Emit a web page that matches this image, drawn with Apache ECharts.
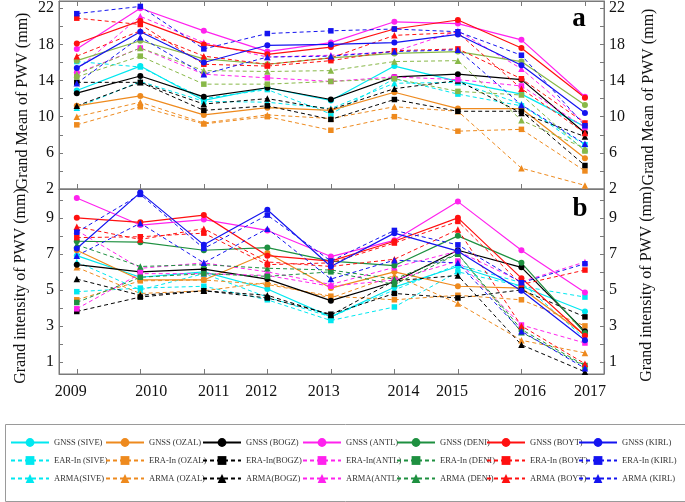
<!DOCTYPE html>
<html><head><meta charset="utf-8">
<script src="https://cdn.jsdelivr.net/npm/echarts@6/dist/echarts.min.js"></script>
<style>html,body{margin:0;padding:0;background:#fff}#c{width:685px;height:502px}</style>
</head><body><div id="c"></div>
<script>
// ---------- data ----------
const years = [2009, 2010, 2011, 2012, 2013, 2014, 2015, 2016, 2017];
const meanTicks = [2, 6, 10, 14, 18, 22];
const intensityTicks = [1, 3, 5, 7, 9];
const meanAxisName = 'Grand Mean of PWV (mm)';
const intensityAxisName = 'Grand intensity of PWV (mm)';

// panel a: Grand Mean of PWV (mm)
const mGnssSive = [12.9, 15.6, 11.8, 13.2, 11.8, 15.6, 13.9, 12.5, 8.9];
const mEraSive  = [16.1, 15.5, 12.0, 13.0, 10.3, 14.2, 12.5, 11.2, 6.9];
const mArmaSive = [11.0, 13.9, 11.7, 11.6, 10.9, 13.7, 13.8, 11.4, 6.4];
const mGnssOzal = [11.2, 12.3, 10.2, 11.0, 10.7, 12.7, 10.9, 10.9, 5.4];
const mEraOzal  = [9.1, 11.1, 9.2, 10.0, 8.5, 10.0, 8.4, 8.6, 4.0];
const mArmaOzal = [10.0, 11.6, 9.3, 10.2, 9.8, 11.1, 10.6, 4.3, 2.4];
const mGnssBogz = [12.6, 14.5, 12.2, 13.2, 11.9, 14.4, 14.7, 14.1, 8.2];
const mEraBogz  = [13.8, 13.8, 10.7, 11.2, 9.7, 11.9, 10.6, 10.6, 4.6];
const mArmaBogz = [11.2, 13.8, 11.4, 12.0, 10.8, 13.1, 14.0, 10.4, 7.8];
const mGnssAntl = [17.5, 22.0, 19.5, 17.2, 18.2, 20.5, 20.3, 18.5, 12.2];
const mEraAntl  = [14.8, 17.6, 14.7, 14.3, 13.9, 14.4, 14.1, 13.4, 8.8];
const mArmaAntl = [15.2, 21.1, 18.2, 16.6, 16.8, 17.2, 19.5, 15.3, 9.3];
const mGnssDeni = [16.2, 18.4, 16.4, 15.8, 16.5, 17.0, 17.2, 16.1, 11.3];
const mEraDeni  = [14.4, 16.7, 13.6, 13.6, 13.9, 14.2, 12.8, 12.4, 6.2];
const mArmaDeni = [14.7, 17.6, 15.1, 15.0, 15.1, 16.1, 16.2, 9.6, 6.5];
const mGnssBoyt = [18.1, 20.6, 18.0, 16.9, 17.7, 19.7, 20.7, 17.6, 12.1];
const mEraBoyt  = [20.9, 20.2, 15.8, 15.6, 16.2, 17.3, 17.5, 14.2, 9.3];
const mArmaBoyt = [16.7, 19.5, 16.7, 15.8, 16.5, 19.0, 19.3, 13.1, 8.2];
const mGnssKirl = [15.4, 19.4, 16.0, 17.9, 18.0, 18.2, 19.1, 15.7, 10.4];
const mEraKirl  = [21.4, 22.2, 17.5, 19.2, 19.5, 19.7, 19.4, 16.8, 9.0];
const mArmaKirl = [13.7, 18.8, 14.7, 16.6, 16.7, 17.2, 17.4, 11.3, 7.0];

// panel b: Grand intensity of PWV (mm)
const iGnssSive = [6.9, 5.7, 6.0, 5.05, 3.5, 5.15, 6.3, 5.2, 3.8];
const iEraSive  = [4.9, 5.1, 5.2, 4.45, 3.3, 4.05, 6.0, 5.2, 4.6];
const iArmaSive = [6.55, 5.0, 5.9, 4.6, 3.5, 5.0, 6.4, 5.4, 2.3];
const iGnssOzal = [7.2, 5.55, 5.55, 7.05, 5.1, 6.0, 5.2, 5.1, 2.5];
const iEraOzal  = [4.45, 5.5, 5.55, 5.3, 4.65, 4.45, 4.7, 4.45, 3.0];
const iArmaOzal = [6.25, 4.8, 4.95, 5.4, 4.55, 5.8, 4.25, 2.2, 1.5];
const iGnssBogz = [6.4, 6.0, 6.15, 5.6, 4.4, 5.45, 7.2, 6.25, 2.7];
const iEraBogz  = [3.8, 4.6, 4.95, 4.55, 3.65, 4.8, 4.55, 5.0, 3.5];
const iArmaBogz = [5.6, 4.7, 4.95, 4.7, 3.6, 5.5, 5.8, 1.95, 0.45];
const iGnssAntl = [10.1, 8.6, 8.9, 8.3, 6.85, 7.75, 9.9, 7.2, 4.85];
const iEraAntl  = [3.95, 5.9, 5.9, 5.8, 5.2, 5.55, 6.6, 3.05, 2.05];
const iArmaAntl = [8.3, 6.2, 6.5, 6.0, 5.3, 6.25, 7.15, 5.45, 6.55];
const iGnssDeni = [7.7, 7.65, 7.2, 7.35, 6.6, 6.35, 8.0, 6.5, 2.6];
const iEraDeni  = [4.3, 5.7, 5.9, 5.75, 6.0, 5.3, 7.0, 2.8, 0.8];
const iArmaDeni = [7.5, 6.3, 6.4, 6.2, 6.1, 5.6, 7.0, 2.65, 0.75];
const iGnssBoyt = [9.0, 8.75, 9.15, 6.9, 6.6, 7.7, 9.0, 5.65, 2.45];
const iEraBoyt  = [7.9, 7.95, 8.15, 6.4, 6.5, 7.6, 8.8, 5.3, 6.1];
const iArmaBoyt = [8.5, 7.8, 8.4, 6.55, 6.3, 6.7, 8.35, 3.0, 0.9];
const iGnssKirl = [7.3, 10.4, 7.5, 9.45, 6.3, 8.15, 7.15, 4.95, 2.2];
const iEraKirl  = [8.2, 10.3, 7.3, 9.15, 6.6, 8.3, 7.5, 5.4, 6.45];
const iArmaKirl = [6.9, 8.7, 6.5, 8.4, 5.6, 6.65, 6.5, 2.7, 0.65];

// legend names (as printed)
const namesSive = ['GNSS (SIVE)', 'EAR-In (SIVE)', 'ARMA(SIVE)'];
const namesOzal = ['GNSS (OZAL)', 'ERA-In (OZAL)', 'ARMA (OZAL)'];
const namesBogz = ['GNSS (BOGZ)', 'ERA-In(BOGZ)', 'ARMA(BOGZ)'];
const namesAntl = ['GNSS (ANTL)', 'ERA-In(ANTL)', 'ARMA(ANTL)'];
const namesDeni = ['GNSS (DENI)', 'ERA-In (DENI)', 'ARMA (DENI)'];
const namesBoyt = ['GNSS (BOYT)', 'ERA-In (BOYT)', 'ARMA (BOYT)'];
const namesKirl = ['GNSS (KIRL)', 'ERA-In (KIRL)', 'ARMA (KIRL)'];

// ---------- styling ----------
const FONT = '"Liberation Serif", "Times New Roman", serif';
const stationDefs = [
  {names: namesSive, colA: '#00E8F0', colB: '#00E8F0', a: [mGnssSive, mEraSive, mArmaSive], b: [iGnssSive, iEraSive, iArmaSive]},
  {names: namesOzal, colA: '#EE8A1E', colB: '#EE8A1E', a: [mGnssOzal, mEraOzal, mArmaOzal], b: [iGnssOzal, iEraOzal, iArmaOzal]},
  {names: namesBogz, colA: '#000000', colB: '#000000', a: [mGnssBogz, mEraBogz, mArmaBogz], b: [iGnssBogz, iEraBogz, iArmaBogz]},
  {names: namesAntl, colA: '#FF22EE', colB: '#FF22EE', a: [mGnssAntl, mEraAntl, mArmaAntl], b: [iGnssAntl, iEraAntl, iArmaAntl]},
  {names: namesDeni, colA: '#88B848', colB: '#1E9040', a: [mGnssDeni, mEraDeni, mArmaDeni], b: [iGnssDeni, iEraDeni, iArmaDeni]},
  {names: namesBoyt, colA: '#FF1010', colB: '#FF1010', a: [mGnssBoyt, mEraBoyt, mArmaBoyt], b: [iGnssBoyt, iEraBoyt, iArmaBoyt]},
  {names: namesKirl, colA: '#1414F0', colB: '#1414F0', a: [mGnssKirl, mEraKirl, mArmaKirl], b: [iGnssKirl, iEraKirl, iArmaKirl]}
];
const typeStyle = [
  {symbol: 'circle', size: 6, line: 'solid', width: 1.2},
  {symbol: 'rect', size: 5.5, line: [4, 3], width: 1},
  {symbol: 'triangle', size: 6.5, line: [4, 3], width: 1}
];

const series = [];
['b', 'a'].forEach(panel => {
  stationDefs.forEach(st => {
    st[panel].forEach((vals, t) => {
      const ts = typeStyle[t];
      const col = panel === 'a' ? st.colA : st.colB;
      series.push({
        type: 'line',
        name: st.names[t],
        xAxisIndex: panel === 'a' ? 0 : 2,
        yAxisIndex: panel === 'a' ? 0 : 2,
        data: years.map((y, i) => [y, vals[i]]),
        symbol: ts.symbol,
        symbolSize: ts.size,
        showSymbol: true,
        lineStyle: {type: ts.line, width: ts.width, color: col},
        itemStyle: {color: col},
        emphasis: {disabled: true},
        animation: false
      });
    });
  });
});

// x label offsets (visual placement as in reference)
const labelShift = [-6, 11, 10, -6, -7, 9, -6, 8.5, 5];
const rich = {};
labelShift.forEach((d, i) => {
  rich['o' + i] = {
    fontFamily: FONT, fontSize: 16, color: '#111',
    padding: d > 0 ? [0, 0, 0, 2 * d] : [0, -2 * d, 0, 0]
  };
});

const axisGray = '#7a7a7a';
function xAx(grid, pos, labels) {
  return {
    type: 'value', gridIndex: grid, position: pos,
    min: 2008.72, max: 2017.3,
    axisLine: {show: true, lineStyle: {color: axisGray, width: 1}},
    axisTick: {show: true, inside: true, length: 5, customValues: years, lineStyle: {color: axisGray}},
    axisLabel: labels ? {
      show: true, margin: 10, customValues: years,
      formatter: v => '{o' + years.indexOf(Math.round(v)) + '|' + Math.round(v) + '}',
      rich: rich
    } : {show: false},
    splitLine: {show: false}
  };
}
function yAx(grid, pos, min, max, labelVals, tickVals) {
  return {
    type: 'value', gridIndex: grid, position: pos, min: min, max: max,
    axisLine: {show: true, lineStyle: {color: axisGray, width: 1}},
    axisTick: {show: true, inside: true, length: 4, customValues: tickVals, lineStyle: {color: axisGray}},
    axisLabel: {show: true, margin: 5, customValues: labelVals, fontFamily: FONT, fontSize: 16, color: '#111'},
    splitLine: {show: false}
  };
}

const meanTickMarks = [2, 4, 6, 8, 10, 12, 14, 16, 18, 20, 22];
const intTickMarks = [1, 2, 3, 4, 5, 6, 7, 8, 9, 10];

const legendCols = [
  {left: 5, names: namesSive}, {left: 100, names: namesOzal}, {left: 197, names: namesBogz},
  {left: 297, names: namesAntl}, {left: 391, names: namesDeni}, {left: 481, names: namesBoyt},
  {left: 573, names: namesKirl}
];
const legends = legendCols.map(c => ({
  orient: 'vertical', left: c.left, top: 433,
  itemWidth: 38, itemHeight: 11, itemGap: 9,
  selectedMode: false,
  data: c.names,
  textStyle: {fontFamily: FONT, fontSize: 8.5, color: '#333'}
}));

function vName(text, x, y) {
  return {type: 'text', x: x, y: y, rotation: Math.PI / 2, silent: true,
    style: {text: text, fontFamily: FONT, fontSize: 16, fill: '#111', textAlign: 'center', textVerticalAlign: 'middle'}};
}

const option = {
  backgroundColor: '#fff',
  animation: false,
  grid: [
    {left: 59, right: 81, top: 1, height: 188, show: true, borderColor: axisGray, borderWidth: 1, containLabel: false},
    {left: 59, right: 81, top: 189, height: 185, show: true, borderColor: axisGray, borderWidth: 1, containLabel: false}
  ],
  xAxis: [xAx(0, 'bottom', false), xAx(0, 'top', false), xAx(1, 'bottom', true)],
  yAxis: [
    yAx(0, 'left', 2, 22.8, meanTicks, meanTickMarks),
    yAx(0, 'right', 2, 22.8, meanTicks, meanTickMarks),
    yAx(1, 'left', 0.33, 10.6, intensityTicks, intTickMarks),
    yAx(1, 'right', 0.33, 10.6, intensityTicks, intTickMarks)
  ],
  legend: legends,
  graphic: [
    {type: 'rect', left: 3, top: 422, shape: {x: 0, y: 0, width: 680, height: 77},
     style: {fill: 'none', stroke: '#9a9a9a', lineWidth: 1}, silent: true},
    {type: 'text', x: 579, y: 19, style: {text: 'a', fontFamily: FONT, fontSize: 27, fontWeight: 'bold', fill: '#000', textAlign: 'center', textVerticalAlign: 'middle'}},
    {type: 'text', x: 580, y: 209, style: {text: 'b', fontFamily: FONT, fontSize: 27, fontWeight: 'bold', fill: '#000', textAlign: 'center', textVerticalAlign: 'middle'}},
    vName(meanAxisName, 23, 101),
    vName(meanAxisName, 649, 97),
    vName(intensityAxisName, 21, 286),
    vName(intensityAxisName, 647, 284)
  ],
  series: series
};

const chart = echarts.init(document.getElementById('c'), null, {renderer: 'canvas'});
chart.setOption(option);
</script>
</body></html>
